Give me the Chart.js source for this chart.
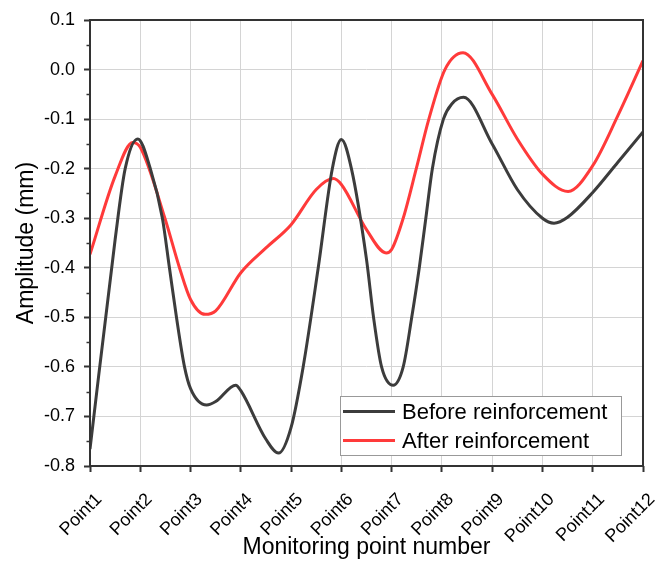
<!DOCTYPE html>
<html>
<head>
<meta charset="utf-8">
<script src="https://cdn.jsdelivr.net/npm/chart.js@4.4.0/dist/chart.umd.min.js"></script>
<style>
  html, body { margin: 0; padding: 0; background: #fff; }
  #wrap { width: 655px; height: 561px; position: relative; }
</style>
</head>
<body>
<div id="wrap"><canvas id="ampChart"></canvas></div>
<script>
// category names on the x axis (position 1..12)
const pointNames = ['Point1', 'Point2', 'Point3', 'Point4', 'Point5', 'Point6',
  'Point7', 'Point8', 'Point9', 'Point10', 'Point11', 'Point12'];

// curves (x = point position, y = amplitude in mm)
const beforeX = [1, 1.5, 1.7, 1.95, 2.2, 2.44, 2.58, 2.72, 2.88, 3, 3.32, 3.5, 3.9, 4,
  4.5, 4.75, 5, 5.24, 5.54, 5.82, 6, 6.2, 6.5, 6.64, 6.8, 7.03, 7.23, 7.4, 7.55, 7.68,
  7.81, 8.03, 8.2, 8.43, 9, 9.5, 10, 10.23, 10.5, 11, 11.5, 12];
const beforeY = [-0.766, -0.343, -0.2, -0.14, -0.2, -0.3, -0.4, -0.5, -0.6, -0.644, -0.677, -0.67, -0.637, -0.648,
  -0.746, -0.774, -0.722, -0.6, -0.4, -0.2, -0.141, -0.2, -0.383, -0.5, -0.6, -0.637, -0.6, -0.5, -0.4, -0.3,
  -0.2, -0.1, -0.069, -0.056, -0.150, -0.242, -0.300, -0.310, -0.298, -0.248, -0.187, -0.126];

const afterX = [1, 1.5, 1.85, 2, 2.49, 2.78, 3, 3.29, 3.5, 4, 4.5, 5, 5.5, 5.84, 6,
  6.5, 6.89, 7, 7.23, 7.49, 7.74, 8.06, 8.42, 9, 9.5, 10, 10.51, 11, 11.5, 12];
const afterY = [-0.373, -0.215, -0.147, -0.157, -0.3, -0.4, -0.464, -0.494, -0.487, -0.41, -0.36, -0.313, -0.242, -0.220, -0.232,
  -0.323, -0.370, -0.363, -0.3, -0.2, -0.1, 0.0, 0.034, -0.050, -0.140, -0.211, -0.246, -0.194, -0.093, 0.018];

const seriesNames = ['Before reinforcement', 'After reinforcement'];
const yMin = -0.8, yMax = 0.1, yStep = 0.1;

const ctx = document.getElementById('ampChart').getContext('2d');

// box round the plot plus the small ticks between the labelled ones
const frameAndMinor = {
  id: 'frameAndMinor',
  afterDraw(chart) {
    const c = chart.ctx;
    const a = chart.chartArea;
    const y = chart.scales.y;
    c.save();
    c.strokeStyle = '#333';
    c.lineWidth = 2;
    c.strokeRect(a.left, a.top, a.right - a.left, a.bottom - a.top);
    c.lineWidth = 1.5;
    for (let v = yMin + yStep / 2; v < yMax; v += yStep) {
      const py = Math.round(y.getPixelForValue(v)) + 0.5;
      c.beginPath();
      c.moveTo(a.left - 3.5, py);
      c.lineTo(a.left, py);
      c.stroke();
    }
    c.restore();
  }
};

// legend box drawn inside the plot, bottom right
const insideLegend = {
  id: 'insideLegend',
  afterDraw(chart) {
    const c = chart.ctx;
    const a = chart.chartArea;
    const w = 281, h = 59;
    const x0 = a.right - 22 - w, y0 = a.bottom - 11 - h;
    c.save();
    c.fillStyle = '#fff';
    c.fillRect(x0, y0, w, h);
    c.strokeStyle = '#999';
    c.lineWidth = 1;
    c.strokeRect(x0 + 0.5, y0 + 0.5, w, h);
    c.font = '22px "Liberation Sans", Arial, sans-serif';
    c.textBaseline = 'middle';
    chart.data.datasets.forEach((ds, i) => {
      const ly = y0 + 15.5 + i * 29;
      c.strokeStyle = ds.borderColor;
      c.lineWidth = 3;
      c.beginPath();
      c.moveTo(x0 + 3, ly);
      c.lineTo(x0 + 55, ly);
      c.stroke();
      c.fillStyle = '#000';
      c.fillText(ds.label, x0 + 62, ly + 1);
    });
    c.restore();
  }
};

const chart = new Chart(ctx, {
  type: 'line',
  data: {
    datasets: [{
      label: seriesNames[0],
      data: beforeX.map((x, i) => ({ x: x, y: beforeY[i] })),
      borderColor: '#3c3c3c',
      borderWidth: 3,
      pointRadius: 0,
      cubicInterpolationMode: 'monotone',
      fill: false
    }, {
      label: seriesNames[1],
      data: afterX.map((x, i) => ({ x: x, y: afterY[i] })),
      borderColor: '#ff3a3a',
      borderWidth: 3,
      pointRadius: 0,
      cubicInterpolationMode: 'monotone',
      fill: false
    }]
  },
  options: {
    responsive: true,
    maintainAspectRatio: false,
    animation: false,
    layout: { padding: { top: 20, right: 12, left: 0, bottom: 0 } },
    plugins: {
      legend: { display: false },
      tooltip: { enabled: false }
    },
    scales: {
      x: {
        type: 'linear',
        min: 1,
        max: 12,
        afterFit: (s) => { s.height = 95; s.paddingLeft = 0; s.paddingRight = 0; },
        border: { display: false },
        grid: {
          color: '#d4d4d4',
          lineWidth: 1,
          tickLength: 6,
          tickColor: '#333',
          tickWidth: 2
        },
        ticks: {
          stepSize: 1,
          autoSkip: false,
          maxRotation: 45,
          minRotation: 45,
          padding: 17,
          labelOffset: 9,
          color: '#000',
          font: { family: '"Liberation Sans", Arial, sans-serif', size: 18 },
          callback: (v) => Number.isInteger(v) ? pointNames[v - 1] : ''
        },
        title: {
          display: true,
          text: 'Monitoring point number',
          color: '#000',
          padding: { top: 0, bottom: 0 },
          font: { family: '"Liberation Sans", Arial, sans-serif', size: 23 }
        }
      },
      y: {
        min: yMin,
        max: yMax,
        afterFit: (s) => { s.width = 90; },
        border: { display: false },
        grid: {
          color: '#d4d4d4',
          lineWidth: 1,
          tickLength: 6,
          tickColor: '#333',
          tickWidth: 2
        },
        ticks: {
          stepSize: yStep,
          padding: 9,
          color: '#000',
          font: { family: '"Liberation Sans", Arial, sans-serif', size: 18 },
          callback: (v) => Math.abs(v) < 1e-9 ? '0.0' : v.toFixed(1)
        },
        title: {
          display: true,
          text: 'Amplitude (mm)',
          color: '#000',
          padding: { top: 13, bottom: 0 },
          font: { family: '"Liberation Sans", Arial, sans-serif', size: 23 }
        }
      }
    }
  },
  plugins: [frameAndMinor, insideLegend]
});
</script>
</body>
</html>
